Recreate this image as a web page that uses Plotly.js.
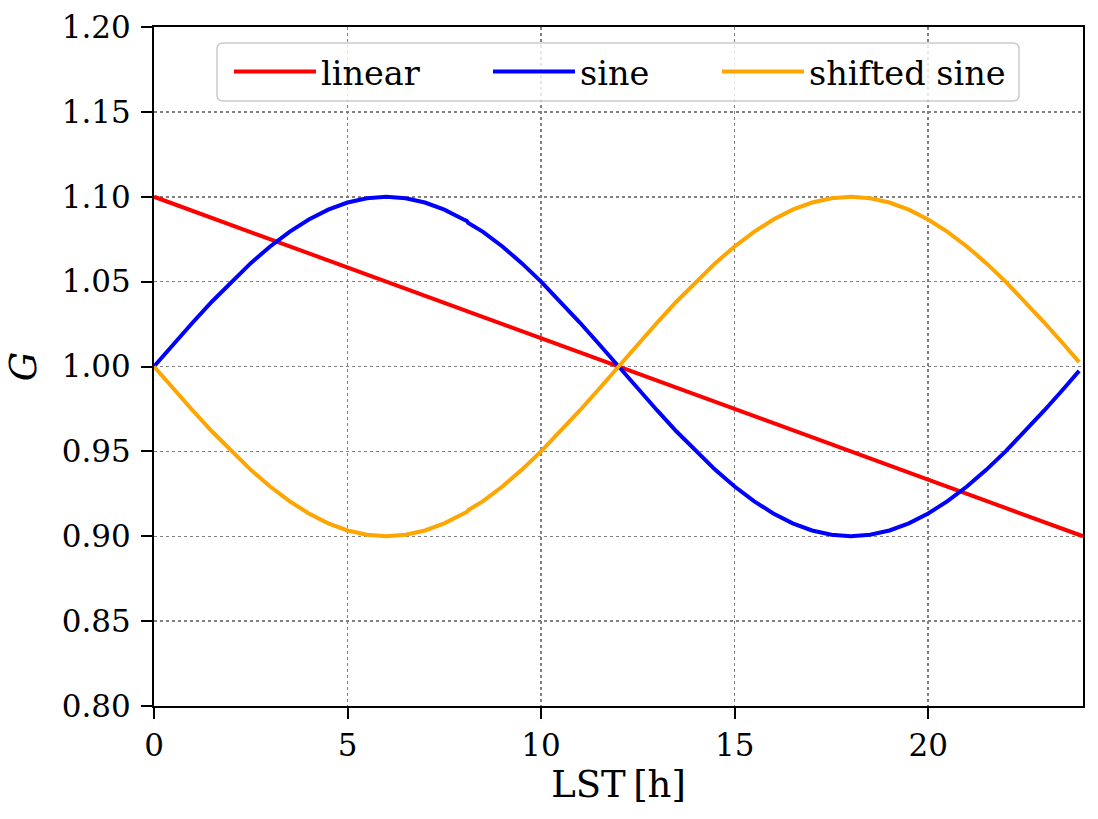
<!DOCTYPE html>
<html>
<head>
<meta charset="utf-8">
<script src="https://cdn.plot.ly/plotly-3.0.1.min.js"></script>
<style>
  html, body { margin: 0; padding: 0; background: #fff; }
  #chart { width: 1098px; height: 819px; }
</style>
</head>
<body>
<div id="chart"></div>
<script>
// LST in hours
var lst = [0, 0.5, 1, 1.5, 2, 2.5, 3, 3.5, 4, 4.5, 5, 5.5, 6, 6.5, 7, 7.5, 8, 8.08, 8.12,
           8.5, 9, 9.5, 10, 10.5, 11, 11.5, 12, 12.5, 13, 13.5, 14, 14.5, 15, 15.5, 16,
           16.5, 17, 17.5, 18, 18.5, 19, 19.5, 20, 20.5, 21, 21.5, 22, 22.5, 23, 23.5, 23.9];

var sine = [1.0000, 1.0131, 1.0259, 1.0383, 1.0500, 1.0609, 1.0707, 1.0793, 1.0866, 1.0924,
            1.0966, 1.0991, 1.1000, 1.0991, 1.0966, 1.0924, 1.0866, 1.0858, 1.0846,
            1.0793, 1.0707, 1.0609, 1.0500, 1.0383, 1.0259, 1.0131, 1.0000, 0.9869, 0.9741,
            0.9617, 0.9500, 0.9391, 0.9293, 0.9207, 0.9134, 0.9076, 0.9034, 0.9009, 0.9000,
            0.9009, 0.9034, 0.9076, 0.9134, 0.9207, 0.9293, 0.9391, 0.9500, 0.9617, 0.9741,
            0.9869, 0.9974];

var shifted = [1.0000, 0.9869, 0.9741, 0.9617, 0.9500, 0.9391, 0.9293, 0.9207, 0.9134, 0.9076,
               0.9034, 0.9009, 0.9000, 0.9009, 0.9034, 0.9076, 0.9134, 0.9142, 0.9154,
               0.9207, 0.9293, 0.9391, 0.9500, 0.9617, 0.9741, 0.9869, 1.0000, 1.0131, 1.0259,
               1.0383, 1.0500, 1.0609, 1.0707, 1.0793, 1.0866, 1.0924, 1.0966, 1.0991, 1.1000,
               1.0991, 1.0966, 1.0924, 1.0866, 1.0793, 1.0707, 1.0609, 1.0500, 1.0383, 1.0259,
               1.0131, 1.0026];

var lstLinear = [0, 12, 24];
var linear = [1.10, 1.00, 0.90];

var xTicks = [0, 5, 10, 15, 20];
var yTicks = [0.80, 0.85, 0.90, 0.95, 1.00, 1.05, 1.10, 1.15, 1.20];

var font = "DejaVu Serif, serif";

var data = [
    {x: lstLinear, y: linear, name: "linear", type: "scatter", mode: "lines",
     line: {color: "#ff0000", width: 4}, legend: "legend"},
    {x: lst, y: sine, name: "sine", type: "scatter", mode: "lines",
     line: {color: "#0000ff", width: 4}, legend: "legend2"},
    {x: lst, y: shifted, name: "shifted sine", type: "scatter", mode: "lines",
     line: {color: "#ffa500", width: 4}, legend: "legend3"}
];

var axisCommon = {
    showline: true, mirror: true, linecolor: "black", linewidth: 2,
    ticks: "outside", ticklen: 11, tickwidth: 2, tickcolor: "black",
    showgrid: true, gridcolor: "#808080", gridwidth: 1.5, griddash: "dot",
    zeroline: false,
    tickfont: {family: font, size: 31, color: "black"}
};

// one legend per entry so the spacing can follow the matplotlib layout
function legendAt(x) {
    return {
        orientation: "h",
        x: x, y: 0.934, xanchor: "left", yanchor: "middle",
        bgcolor: "rgba(0,0,0,0)", borderwidth: 0,
        font: {family: font, size: 33.5, color: "black"},
        itemwidth: 82
    };
}

// rounded legend frame
var fx0 = 0.0678, fx1 = 0.9311, fy0 = 0.8910, fy1 = 0.9764, rx = 0.0065, ry = 0.0089;
var framePath = "M" + (fx0 + rx) + "," + fy1 +
    " L" + (fx1 - rx) + "," + fy1 + " Q" + fx1 + "," + fy1 + " " + fx1 + "," + (fy1 - ry) +
    " L" + fx1 + "," + (fy0 + ry) + " Q" + fx1 + "," + fy0 + " " + (fx1 - rx) + "," + fy0 +
    " L" + (fx0 + rx) + "," + fy0 + " Q" + fx0 + "," + fy0 + " " + fx0 + "," + (fy0 + ry) +
    " L" + fx0 + "," + (fy1 - ry) + " Q" + fx0 + "," + fy1 + " " + (fx0 + rx) + "," + fy1 + " Z";

var layout = {
    width: 1098,
    height: 819,
    margin: {l: 154, r: 15, t: 27, b: 113},
    paper_bgcolor: "white",
    plot_bgcolor: "white",
    font: {family: font, size: 31, color: "black"},
    showlegend: true,
    legend: legendAt(0.0807),
    legend2: legendAt(0.3595),
    legend3: legendAt(0.6060),
    shapes: [{
        type: "path", xref: "paper", yref: "paper", path: framePath,
        line: {color: "#cccccc", width: 1.5},
        fillcolor: "rgba(255,255,255,0.8)", layer: "above"
    }],
    xaxis: Object.assign({}, axisCommon, {
        range: [0, 24],
        tickvals: xTicks,
        ticktext: xTicks.map(String),
        title: {text: "LST\u2009[h]", font: {family: font, size: 37, color: "black"}, standoff: 7}
    }),
    yaxis: Object.assign({}, axisCommon, {
        range: [0.80, 1.20],
        tickvals: yTicks,
        ticktext: yTicks.map(function (v) { return v.toFixed(2); }),
        ticklabelstandoff: 4,
        title: {text: "<i>G</i>", font: {family: font, size: 37, color: "black"}, standoff: 14}
    })
};

Plotly.newPlot("chart", data, layout, {staticPlot: true, displayModeBar: false});
</script>
</body>
</html>
